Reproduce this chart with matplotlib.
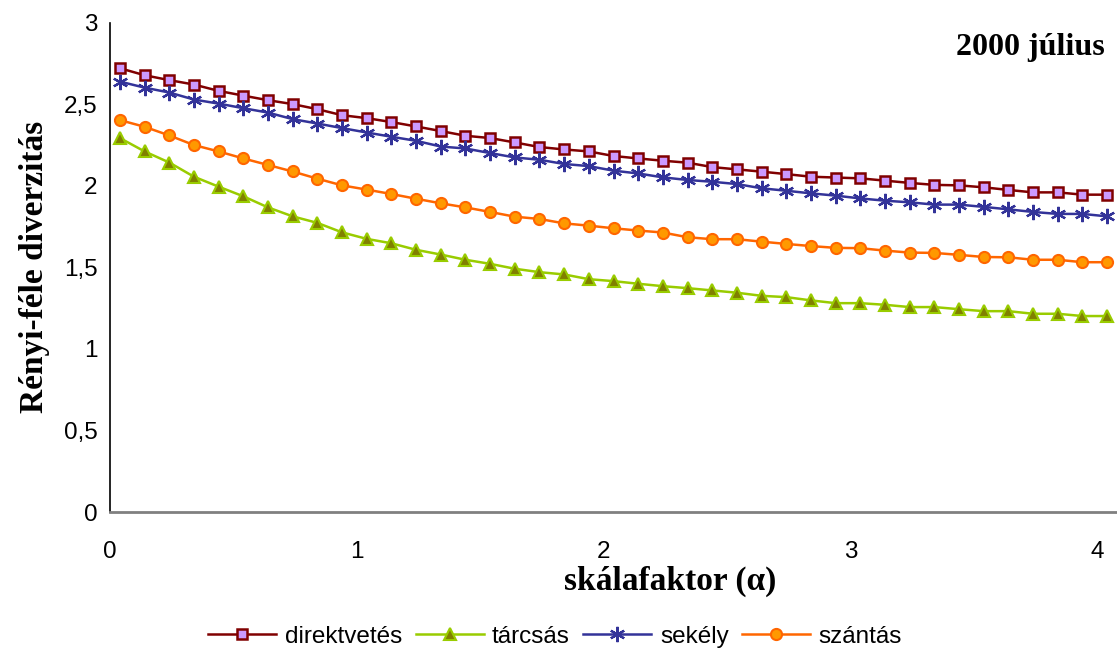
import numpy as np
import matplotlib
matplotlib.use("Agg")
import matplotlib.pyplot as plt

alpha = [0.04, 0.14, 0.24, 0.34, 0.44, 0.54, 0.64, 0.74, 0.84, 0.94,
         1.04, 1.14, 1.24, 1.34, 1.44, 1.54, 1.64, 1.74, 1.84, 1.94,
         2.04, 2.14, 2.24, 2.34, 2.44, 2.54, 2.64, 2.74, 2.84, 2.94,
         3.04, 3.14, 3.24, 3.34, 3.44, 3.54, 3.64, 3.74, 3.84, 3.94, 4.04]

direktvetes = [2.720, 2.677, 2.647, 2.620, 2.581, 2.552, 2.524,
               2.500, 2.469, 2.432, 2.414, 2.390, 2.363, 2.335,
               2.306, 2.292, 2.265, 2.237, 2.222, 2.210, 2.182,
               2.167, 2.153, 2.141, 2.114, 2.100, 2.086, 2.071, 2.055,
               2.050, 2.045, 2.031, 2.017, 2.005, 2.002, 1.990,
               1.974, 1.959, 1.959, 1.945, 1.945]
tarcsas = [2.292, 2.210, 2.142, 2.055, 1.994, 1.935, 1.867,
           1.812, 1.772, 1.714, 1.674, 1.647, 1.607, 1.578,
           1.546, 1.521, 1.491, 1.470, 1.456, 1.427, 1.415,
           1.399, 1.384, 1.372, 1.358, 1.344, 1.325, 1.317, 1.297,
           1.280, 1.280, 1.270, 1.256, 1.256, 1.243, 1.231,
           1.231, 1.215, 1.215, 1.201, 1.201]
sekely = [2.638, 2.601, 2.571, 2.528, 2.503, 2.475, 2.448,
          2.408, 2.381, 2.353, 2.326, 2.300, 2.275, 2.240,
          2.228, 2.200, 2.173, 2.159, 2.133, 2.120, 2.092,
          2.075, 2.051, 2.035, 2.024, 2.010, 1.984, 1.969, 1.953,
          1.939, 1.922, 1.908, 1.898, 1.884, 1.884, 1.870,
          1.855, 1.839, 1.827, 1.827, 1.812]
szantas = [2.402, 2.361, 2.308, 2.249, 2.210, 2.167, 2.127,
           2.087, 2.043, 2.002, 1.976, 1.949, 1.920, 1.892,
           1.867, 1.839, 1.810, 1.796, 1.769, 1.755, 1.739,
           1.725, 1.713, 1.684, 1.672, 1.672, 1.657, 1.643, 1.630,
           1.619, 1.617, 1.602, 1.590, 1.588, 1.576, 1.563,
           1.561, 1.546, 1.546, 1.531, 1.531]

labels = ['direktvetés', 'tárcsás', 'sekély', 'szántás']
x_ticks = [0, 1, 2, 3, 4]
y_ticks = [0, 0.5, 1, 1.5, 2, 2.5, 3]
y_ticklabels = ['0', '0,5', '1', '1,5', '2', '2,5', '3']

fig = plt.figure(figsize=(11.17, 6.57), dpi=100)
ax = fig.add_axes([0.0985, 0.2207, 0.9015, 0.745])

ax.plot(alpha, direktvetes, color='#800000', lw=1.8, marker='s', ms=7.5,
        mfc='#CC99FF', mec='#800000', mew=1.8, label=labels[0])
ax.plot(alpha, tarcsas, color='#99CC00', lw=1.8, marker='^', ms=8.5,
        mfc='#808000', mec='#99CC00', mew=1.5, label=labels[1])
ax.plot(alpha, sekely, color='#333399', lw=1.8, marker=(6, 2, 0), ms=11,
        mec='#333399', mew=1.6, label=labels[2])
ax.plot(alpha, szantas, color='#FF6600', lw=1.8, marker='o', ms=8,
        mfc='#FF9900', mec='#FF6600', mew=1.5, label=labels[3])

ax.set_xlim(0, 4.08)
ax.set_ylim(0, 3)
ax.set_xticks(x_ticks)
ax.set_yticks(y_ticks)
ax.set_yticklabels(y_ticklabels)
ax.tick_params(length=0, labelsize=17.5)
ax.tick_params(axis='y', pad=9)
ax.tick_params(axis='x', pad=21)
for lab in ax.get_xticklabels() + ax.get_yticklabels():
    lab.set_family('Liberation Sans')

ax.spines['top'].set_visible(False)
ax.spines['right'].set_visible(False)
ax.spines['left'].set_color('black')
ax.spines['left'].set_linewidth(1.2)
ax.spines['bottom'].set_color('#808080')
ax.spines['bottom'].set_linewidth(2)

# Excel places the axis title a bit right of centre
ax.set_xlabel('skálafaktor (α)', fontsize=24, fontweight='bold',
              family='Liberation Serif', labelpad=2, x=0.556)
ax.set_ylabel('Rényi-féle diverzitás', fontsize=24, fontweight='bold',
              family='Liberation Serif', labelpad=10)
ax.text(0.988, 0.948, '2000 július', transform=ax.transAxes, ha='right',
        va='center', fontsize=23, fontweight='bold', family='Liberation Serif')

fig.legend(loc='center', bbox_to_anchor=(0.497, 0.031), ncol=4, frameon=False,
           prop={'family': 'Liberation Sans', 'size': 17.5}, handlelength=2.8,
           columnspacing=0.55, handletextpad=0.35)

fig.savefig('out.png', dpi=100)
